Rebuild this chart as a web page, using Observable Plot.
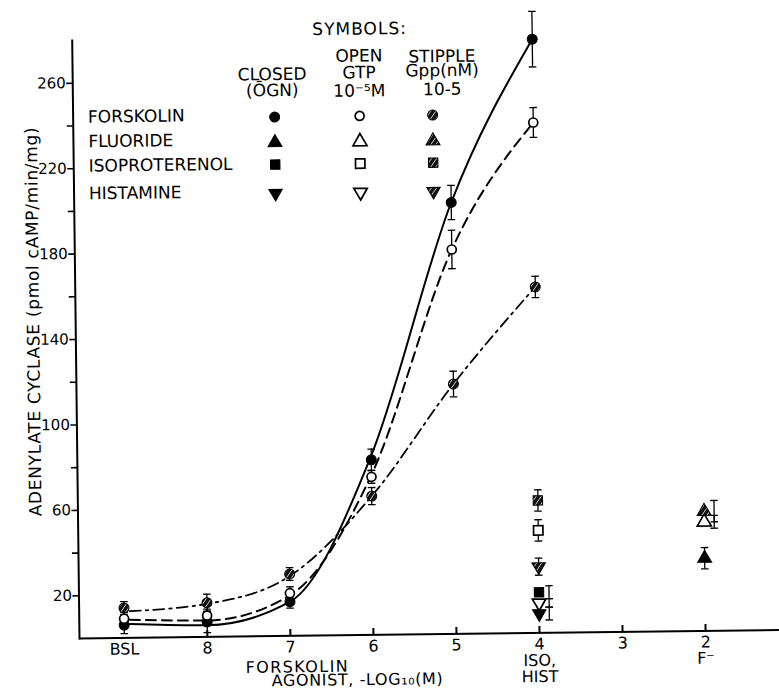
<!DOCTYPE html>
<html><head><meta charset="utf-8">
<script src="https://cdn.jsdelivr.net/npm/d3@7"></script>
<script src="https://cdn.jsdelivr.net/npm/@observablehq/plot@0.6"></script>
<style>
html,body{margin:0;padding:0;background:#fff;}
#chart{position:relative;width:779px;height:693px;transform:rotate(-0.7deg);transform-origin:79px 638px;}
</style></head><body>
<svg width="0" height="0" style="position:absolute">
<defs><pattern id="stipple" patternUnits="userSpaceOnUse" width="4.2" height="4.2" patternTransform="rotate(-55)">
<rect width="4.2" height="4.2" fill="#111"/><rect width="4.2" height="0.65" fill="#fff"/></pattern></defs></svg>
<div id="chart"></div>
<script>
// ---- data ----
const xTicks = [9, 8, 7, 6, 5, 4, 3, 2];              // 9 = basal (BSL)
const xTickLabels = ["BSL", "8", "7", "6", "5", "4\nISO,\nHIST", "3", "2\nF⁻"];
const yTicks = [20, 40, 60, 80, 100, 120, 140, 160, 180, 200, 220, 240, 260];
const yTickLabels = ["20", "", "60", "", "100", "", "140", "", "180", "", "220", "", "260"];

const forskolinLogM = [9, 8, 7, 6, 5, 4];
const closedForskolin = [6, 7, 16, 82, 202, 278];
const closedForskolinErr = [4, 5, 3, 5, 8, 13];
const openForskolin = [9, 10, 20, 74, 180, 239];
const openForskolinErr = [3, 3, 3, 3, 9, 7];
const stippleForskolin = [14, 16, 29, 65, 117, 162];
const stippleForskolinErr = [3, 4, 3, 4, 6, 5];

// fitted curves drawn in the figure
const fitLogM = [8.93, 8, 7, 6, 5, 4];
const closedFit = [6.5, 5.5, 16, 84, 202, 278];
const openFit = [8.5, 7.7, 19, 75, 180, 239];
const stippleFit = [12.5, 15.5, 28, 65, 117, 162];

const agonistNames = ["ISOPROTERENOL", "HISTAMINE", "FLUORIDE"];
const agonistLogM = [4, 4, 2];
const closedAgonist = [19, 9, 34];
const closedAgonistErr = [3, 3, 5];
const openAgonist = [48, 14, 51];
const openAgonistErr = [5, 2, 3];
const stippleAgonist = [62, 31, 56];
const stippleAgonistErr = [5, 4, 5];

const legendAgents = ["FORSKOLIN", "FLUORIDE", "ISOPROTERENOL", "HISTAMINE"];
const conditions = ["closed", "open", "stipple"];
const conditionHeaders = [["CLOSED", "(ŌGN)"], ["OPEN", "GTP", "10⁻⁵M"], ["STIPPLE", "Gpp(nM)", "10-5"]];
const legendTitle = "SYMBOLS:";
const yTitle = "ADENYLATE CYCLASE (pmol cAMP/min/mg)";
const xTitle1 = "FORSKOLIN";
const xTitle2 = "AGONIST, -LOG₁₀(M)";

// ---- build table ----
const rows = [];
function add(agent, xs, vals, errs, cond) {
  xs.forEach((x, i) => rows.push({agent, cond, x, y: vals[i], e: errs[i]}));
}
add("FORSKOLIN", forskolinLogM, closedForskolin, closedForskolinErr, "closed");
add("FORSKOLIN", forskolinLogM, openForskolin, openForskolinErr, "open");
add("FORSKOLIN", forskolinLogM, stippleForskolin, stippleForskolinErr, "stipple");
agonistNames.forEach((a, i) => {
  rows.push({agent: a, cond: "closed", x: agonistLogM[i], y: closedAgonist[i], e: closedAgonistErr[i]});
  rows.push({agent: a, cond: "open", x: agonistLogM[i], y: openAgonist[i], e: openAgonistErr[i]});
  rows.push({agent: a, cond: "stipple", x: agonistLogM[i], y: stippleAgonist[i], e: stippleAgonistErr[i]});
});
const offsetBars = new Set(["ISOPROTERENOL-closed", "HISTAMINE-closed", "HISTAMINE-open", "FLUORIDE-open", "FLUORIDE-stipple"]);
const isOff = d => offsetBars.has(d.agent + "-" + d.cond);

const triangleDown = {draw(ctx, size) {
  const y = -Math.sqrt(size / (Math.sqrt(3) * 3));
  ctx.moveTo(0, -y * 2); ctx.lineTo(-Math.sqrt(3) * y, y); ctx.lineTo(Math.sqrt(3) * y, y); ctx.closePath();
}};
const capSymbol = {draw(ctx, size) {
  const r = Math.sqrt(size / Math.PI); ctx.moveTo(-r, 0); ctx.lineTo(r, 0);
}};
const symbolOf = {FORSKOLIN: d3.symbolCircle, FLUORIDE: d3.symbolTriangle, ISOPROTERENOL: d3.symbolSquare, HISTAMINE: triangleDown};
const radiusOf = {FORSKOLIN: 5, FLUORIDE: 5.2, ISOPROTERENOL: 5.3, HISTAMINE: 5};
const fillOf = {closed: "#000", open: "#fff", stipple: "url(#stipple)"};
const strokeWOf = {closed: 1, open: 1.7, stipple: 1};

const xLabel = new Map(xTicks.map((d, i) => [d, xTickLabels[i]]));
const yLabel = new Map(yTicks.map((d, i) => [d, yTickLabels[i]]));
const curve = (xs, ys) => xs.map((x, i) => ({x, y: ys[i]}));

const dotMarks = [];
for (const a of legendAgents) for (const c of conditions) {
  dotMarks.push(Plot.dot(rows, {filter: d => d.agent === a && d.cond === c, x: "x", y: "y",
    symbol: symbolOf[a], r: c === "open" && a === "FORSKOLIN" ? 4.5 : radiusOf[a],
    fill: fillOf[c], stroke: "#000", strokeWidth: strokeWOf[c]}));
}
const errMarks = [];
for (const [flt, dx] of [[d => !isOff(d), 0], [d => isOff(d), 10]]) {
  errMarks.push(Plot.ruleX(rows, {filter: flt, x: "x", y1: d => d.y - d.e, y2: d => d.y + d.e, stroke: "#000", strokeWidth: 1.3, dx}));
  errMarks.push(Plot.dot(rows, {filter: flt, x: "x", y: d => d.y + d.e, symbol: capSymbol, r: 3.8, stroke: "#000", strokeWidth: 1.3, dx}));
  errMarks.push(Plot.dot(rows, {filter: flt, x: "x", y: d => d.y - d.e, symbol: capSymbol, r: 3.8, stroke: "#000", strokeWidth: 1.3, dx}));
}

const svg = Plot.plot({
  width: 779, height: 693,
  marginLeft: 79, marginRight: 0, marginTop: 40, marginBottom: 55,
  x: {domain: [9.54, 1.11], axis: null},
  y: {domain: [0, 280], axis: null},
  style: {fontFamily: "DejaVu Sans", fontSize: "16px", color: "#000", background: "#fff"},
  marks: [
    Plot.frame({anchor: "left", strokeWidth: 2}),
    Plot.ruleY([0], {strokeWidth: 2}),
    Plot.ruleX(xTicks.filter(d => d < 9), {x: d => d, y1: 0, y2: 3, strokeWidth: 2}),
    Plot.axisY(yTicks, {label: null, tickSize: 6, tickPadding: 1, strokeWidth: 1.6, tickFormat: d => yLabel.get(d), fontSize: 15}),
    Plot.axisX(xTicks, {label: null, tickSize: 0, tickPadding: 5, tickFormat: d => xLabel.get(d), fontSize: 16, lineHeight: 1.02}),
    Plot.line(curve(fitLogM, closedFit), {x: "x", y: "y", curve: "monotone-x", strokeWidth: 2}),
    Plot.line(curve(fitLogM, openFit), {x: "x", y: "y", curve: "monotone-x", strokeWidth: 2, strokeDasharray: "10,6"}),
    Plot.line(curve(fitLogM, stippleFit), {x: "x", y: "y", curve: "monotone-x", strokeWidth: 1.8, strokeDasharray: "11,5,2.5,5"}),
    ...errMarks,
    ...dotMarks
  ]
});

const root = d3.select(svg);
// axis titles
root.append("text").attr("transform", "translate(43,321) rotate(-90)").attr("text-anchor", "middle")
  .attr("font-family", "DejaVu Sans").attr("font-size", 17).attr("letter-spacing", "0.7px").attr("fill", "#000").text(yTitle);
root.append("text").attr("x", 297).attr("y", 675).attr("text-anchor", "middle")
  .attr("font-family", "DejaVu Sans").attr("font-size", 16).attr("letter-spacing", "1.4px").attr("fill", "#000").text(xTitle1);
root.append("text").attr("x", 357).attr("y", 688.5).attr("text-anchor", "middle")
  .attr("font-family", "DejaVu Sans").attr("font-size", 16).attr("letter-spacing", "0.6px").attr("fill", "#000").text(xTitle2);

// ---- legend (inside the plot area) ----
const lg = root.append("g").attr("font-family", "DejaVu Sans").attr("font-size", 17).attr("fill", "#000");
lg.append("text").attr("x", 367).attr("y", 38).attr("text-anchor", "middle").attr("letter-spacing", "1px").text(legendTitle);
const headerX = [279, 366, 449];
const headerBase = [[82.5, 98.5], [65, 81.7, 100], [66.5, 80.5, 99.4]];
conditionHeaders.forEach((lines, j) => lines.forEach((t, k) =>
  lg.append("text").attr("x", headerX[j]).attr("y", headerBase[j][k]).attr("text-anchor", "middle").text(t)));
const rowBase = [122.8, 147.4, 171.8, 199.4];
const rowSym = [119.4, 145.1, 167, 195.7];
const colX = [281, 366, 439];
legendAgents.forEach((a, i) => {
  lg.append("text").attr("x", 94.4).attr("y", rowBase[i]).attr("text-anchor", "start").text(a);
  conditions.forEach((c, j) => {
    const r = c === "open" && a === "FORSKOLIN" ? 4.5 : radiusOf[a];
    lg.append("path").attr("transform", `translate(${colX[j]},${rowSym[i]})`)
      .attr("d", d3.symbol(symbolOf[a], Math.PI * r * r)())
      .attr("fill", fillOf[c]).attr("stroke", "#000").attr("stroke-width", strokeWOf[c]);
  });
});

document.getElementById("chart").appendChild(svg);
</script></body></html>
